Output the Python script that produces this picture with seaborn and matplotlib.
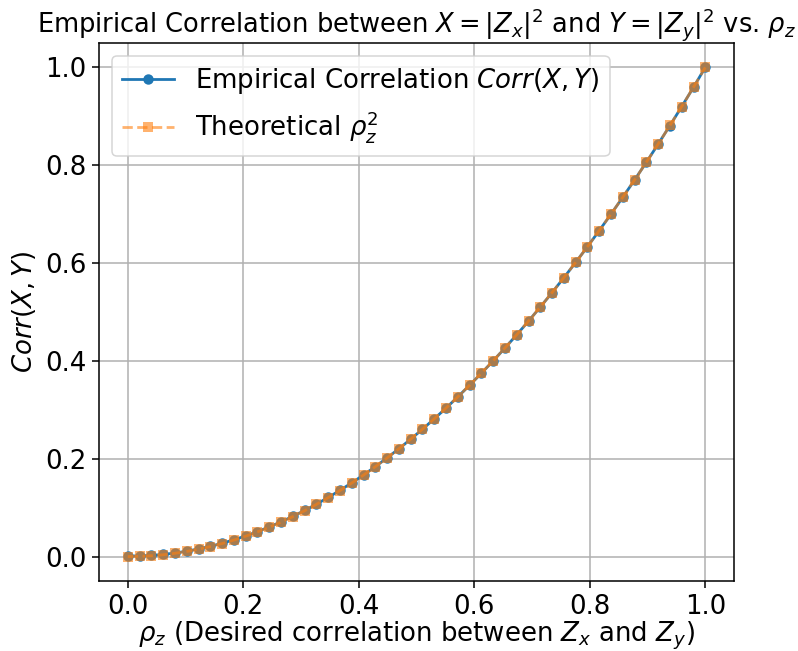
import numpy as np
import pandas as pd
import matplotlib
matplotlib.use("Agg")
import matplotlib.pyplot as plt
import seaborn as sns

# Desired correlation between Z_x and Z_y (50 evenly spaced settings)
rho_z = [0.0000, 0.0204, 0.0408, 0.0612, 0.0816, 0.1020, 0.1224, 0.1429, 0.1633, 0.1837,
         0.2041, 0.2245, 0.2449, 0.2653, 0.2857, 0.3061, 0.3265, 0.3469, 0.3673, 0.3878,
         0.4082, 0.4286, 0.4490, 0.4694, 0.4898, 0.5102, 0.5306, 0.5510, 0.5714, 0.5918,
         0.6122, 0.6327, 0.6531, 0.6735, 0.6939, 0.7143, 0.7347, 0.7551, 0.7755, 0.7959,
         0.8163, 0.8367, 0.8571, 0.8776, 0.8980, 0.9184, 0.9388, 0.9592, 0.9796, 1.0000]

# Measured correlation of |Z_x|^2 and |Z_y|^2
corr_empirical = [0.0010, 0.0014, 0.0022, 0.0043, 0.0072, 0.0110, 0.0156, 0.0210, 0.0272, 0.0343,
                  0.0422, 0.0510, 0.0606, 0.0710, 0.0822, 0.0942, 0.1071, 0.1208, 0.1353, 0.1507,
                  0.1668, 0.1839, 0.2017, 0.2204, 0.2399, 0.2603, 0.2815, 0.3035, 0.3264, 0.3502,
                  0.3747, 0.4002, 0.4264, 0.4535, 0.4814, 0.5101, 0.5397, 0.5701, 0.6013, 0.6334,
                  0.6663, 0.7000, 0.7346, 0.7700, 0.8062, 0.8433, 0.8812, 0.9199, 0.9595, 1.0000]

# Theoretical value rho_z^2
corr_theory = [0.0000, 0.0004, 0.0017, 0.0037, 0.0067, 0.0104, 0.0150, 0.0204, 0.0267, 0.0337,
               0.0416, 0.0504, 0.0600, 0.0704, 0.0816, 0.0937, 0.1066, 0.1204, 0.1349, 0.1504,
               0.1666, 0.1837, 0.2016, 0.2203, 0.2399, 0.2603, 0.2816, 0.3036, 0.3265, 0.3503,
               0.3748, 0.4003, 0.4265, 0.4536, 0.4815, 0.5102, 0.5398, 0.5702, 0.6014, 0.6335,
               0.6664, 0.7001, 0.7347, 0.7701, 0.8063, 0.8434, 0.8813, 0.9200, 0.9596, 1.0000]

df = pd.DataFrame({"rho": rho_z, "emp": corr_empirical, "theo": corr_theory})

fig = plt.figure(figsize=(7.98, 6.51), dpi=100)
ax = fig.add_axes([0.124, 0.1075, 0.796, 0.8265])

sns.lineplot(data=df, x="rho", y="emp", ax=ax, marker="o", markersize=7.5,
             markeredgewidth=0, linewidth=2.0, color="#1f77b4", sort=False,
             errorbar=None, label=r"Empirical Correlation $Corr(X, Y)$")
sns.lineplot(data=df, x="rho", y="theo", ax=ax, marker="s", markersize=7.5,
             markeredgewidth=0, linewidth=2.0, linestyle="--", color="#ff7f0e",
             alpha=0.6, sort=False, errorbar=None, label=r"Theoretical $\rho_z^2$")

ax.set_xlim(-0.05, 1.05)
ax.set_ylim(-0.05, 1.05)
ax.set_xticks([0.0, 0.2, 0.4, 0.6, 0.8, 1.0])
ax.set_yticks([0.0, 0.2, 0.4, 0.6, 0.8, 1.0])
ax.tick_params(labelsize=18.7, length=4.7, width=1.1, pad=4.5)
ax.grid(True, color="#b0b0b0", linewidth=1.1)
for s in ax.spines.values():
    s.set_linewidth(1.1)

ax.set_title(r"Empirical Correlation between $X = |Z_x|^2$ and $Y = |Z_y|^2$ vs. $\rho_z$",
             fontsize=18.5, pad=7)
ax.set_xlabel(r"$\rho_z$ (Desired correlation between $Z_x$ and $Z_y$)", fontsize=18.7, labelpad=0)
ax.set_ylabel(r"$Corr(X, Y)$", fontsize=18.7, labelpad=5)

leg = ax.legend(loc="upper left", fontsize=18.7, framealpha=0.8)
leg.get_frame().set_linewidth(1.1)

fig.savefig("out.png", dpi=100)
